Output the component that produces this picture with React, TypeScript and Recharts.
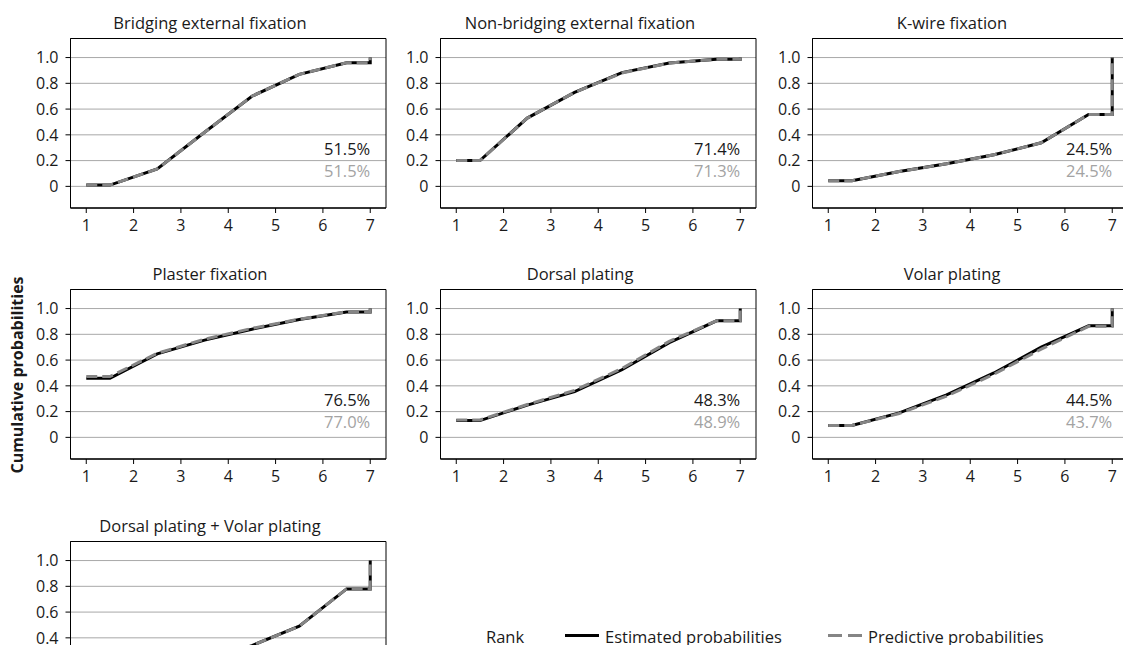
import React from 'react';
import { LineChart, Line, XAxis, YAxis, CartesianGrid, ReferenceDot, ReferenceArea } from 'recharts';

// x positions of the plotted cumulative-rank curve (flat start, ranks, flat end, jump to 1)
const rankPositions = [1, 1.5, 2.5, 3.5, 4.5, 5.5, 6.5, 7, 7];
const xTicks = [1, 2, 3, 4, 5, 6, 7];
const yTicks = [0, 0.2, 0.4, 0.6, 0.8, 1.0];

const titles = [
  'Bridging external fixation',
  'Non-bridging external fixation',
  'K-wire fixation',
  'Plaster fixation',
  'Dorsal plating',
  'Volar plating',
  'Dorsal plating + Volar plating',
];

const bridgingEstimated = [0.01, 0.01, 0.135, 0.42, 0.7, 0.87, 0.96, 0.96, 1.0];
const bridgingPredictive = [0.01, 0.01, 0.135, 0.42, 0.7, 0.87, 0.96, 0.96, 1.0];
const nonBridgingEstimated = [0.2, 0.2, 0.53, 0.73, 0.883, 0.958, 0.987, 0.987, 1.0];
const nonBridgingPredictive = [0.2, 0.2, 0.53, 0.73, 0.88, 0.957, 0.987, 0.987, 1.0];
const kwireEstimated = [0.044, 0.044, 0.115, 0.175, 0.245, 0.338, 0.558, 0.558, 1.0];
const kwirePredictive = [0.044, 0.044, 0.115, 0.175, 0.245, 0.338, 0.558, 0.558, 1.0];
const plasterEstimated = [0.458, 0.458, 0.648, 0.755, 0.84, 0.915, 0.973, 0.973, 1.0];
const plasterPredictive = [0.472, 0.472, 0.653, 0.762, 0.846, 0.918, 0.975, 0.975, 1.0];
const dorsalEstimated = [0.13, 0.13, 0.25, 0.355, 0.525, 0.735, 0.905, 0.905, 1.0];
const dorsalPredictive = [0.135, 0.135, 0.255, 0.365, 0.535, 0.745, 0.905, 0.905, 1.0];
const volarEstimated = [0.093, 0.093, 0.19, 0.33, 0.5, 0.7, 0.866, 0.866, 1.0];
const volarPredictive = [0.093, 0.093, 0.185, 0.32, 0.49, 0.685, 0.862, 0.862, 1.0];
const dorsalVolarEstimated = [0.03, 0.03, 0.1, 0.2, 0.34, 0.49, 0.78, 0.78, 1.0];
const dorsalVolarPredictive = [0.03, 0.03, 0.1, 0.2, 0.34, 0.49, 0.78, 0.78, 1.0];

const sucraEstimated = ['51.5%', '71.4%', '24.5%', '76.5%', '48.3%', '44.5%', null];
const sucraPredictive = ['51.5%', '71.3%', '24.5%', '77.0%', '48.9%', '43.7%', null];

const estimatedSeries = [
  bridgingEstimated, nonBridgingEstimated, kwireEstimated, plasterEstimated,
  dorsalEstimated, volarEstimated, dorsalVolarEstimated,
];
const predictiveSeries = [
  bridgingPredictive, nonBridgingPredictive, kwirePredictive, plasterPredictive,
  dorsalPredictive, volarPredictive, dorsalVolarPredictive,
];

// layout (style only)
const BOX_LEFTS = [70.5, 440.5, 812.5];
const BOX_TOPS = [38.5, 289.5, 541.5];
const PLOT_W = 315;
const PLOT_H = 169;
const Y_W = 60;
const X_H = 40;
const M_TOP = 10;
const M_RIGHT = 10;
const X_DOMAIN: [number, number] = [0.667, 7.333];
const Y_DOMAIN: [number, number] = [-0.168, 1.148];
const FONT = '"Open Sans", "Noto Sans", sans-serif';
const TEXT = '#1a1a1a';
const GRAY_LINE = '#858585';
const GRAY_TEXT = '#a3a3a3';
const TICK_FS = 16;
const LABEL_FS = 16.5;

const yFmt = (v: number) => (v === 0 ? '0' : v.toFixed(1));

function Panel({ idx }: { idx: number }) {
  const col = idx % 3;
  const row = Math.floor(idx / 3);
  const boxLeft = BOX_LEFTS[col];
  const boxTop = BOX_TOPS[row];
  const divLeft = Math.floor(boxLeft) - Y_W;
  const divTop = Math.floor(boxTop) - M_TOP;
  const est = estimatedSeries[idx];
  const pred = predictiveSeries[idx];
  const data = rankPositions.map((r, i) => ({ rank: r, est: est[i], pred: pred[i] }));
  const width = Y_W + PLOT_W + M_RIGHT + 1;
  const height = M_TOP + PLOT_H + X_H + 1;
  return (
    <div style={{ position: 'absolute', left: divLeft, top: divTop }}>
      <LineChart
        width={width}
        height={height}
        data={data}
        margin={{ top: M_TOP + (boxTop - Math.floor(boxTop)), right: M_RIGHT, bottom: 0, left: boxLeft - Math.floor(boxLeft) }}
      >
        <CartesianGrid horizontal vertical={false} stroke="#a8a8a8" strokeWidth={1} />
        <XAxis
          dataKey="rank"
          type="number"
          domain={X_DOMAIN}
          ticks={xTicks}
          allowDataOverflow
          height={X_H}
          tickSize={5}
          tickMargin={7}
          axisLine={{ stroke: '#000', strokeWidth: 1 }}
          tickLine={{ stroke: '#000', strokeWidth: 1 }}
          tick={{ fill: TEXT, fontSize: TICK_FS }}
        />
        <YAxis
          type="number"
          domain={Y_DOMAIN}
          ticks={yTicks}
          allowDataOverflow
          width={Y_W}
          tickSize={5}
          tickMargin={7}
          tickFormatter={yFmt}
          axisLine={{ stroke: '#000', strokeWidth: 1 }}
          tickLine={{ stroke: '#000', strokeWidth: 1 }}
          tick={{ fill: TEXT, fontSize: TICK_FS }}
        />
        <ReferenceArea
          x1={X_DOMAIN[0]}
          x2={X_DOMAIN[1]}
          y1={Y_DOMAIN[0]}
          y2={Y_DOMAIN[1]}
          fill="none"
          fillOpacity={0}
          stroke="#000"
          strokeWidth={1}
          strokeOpacity={1}
          ifOverflow="visible"
        />
        <Line
          type="linear"
          dataKey="est"
          stroke="#000"
          strokeWidth={3}
          dot={false}
          activeDot={false}
          isAnimationActive={false}
        />
        <Line
          type="linear"
          dataKey="pred"
          stroke={GRAY_LINE}
          strokeWidth={3}
          strokeDasharray="11 5"
          dot={false}
          activeDot={false}
          isAnimationActive={false}
        />
        {sucraEstimated[idx] && (
          <ReferenceDot
            x={7}
            y={0.29}
            r={0}
            fill="none"
            stroke="none"
            ifOverflow="visible"
            label={{ value: sucraEstimated[idx], position: 'left', offset: 0, fill: TEXT, fontSize: LABEL_FS }}
          />
        )}
        {sucraPredictive[idx] && (
          <ReferenceDot
            x={7}
            y={0.12}
            r={0}
            fill="none"
            stroke="none"
            ifOverflow="visible"
            label={{ value: sucraPredictive[idx], position: 'left', offset: 0, fill: GRAY_TEXT, fontSize: LABEL_FS }}
          />
        )}
      </LineChart>
    </div>
  );
}

export default function App() {
  return (
    <div
      style={{
        position: 'absolute',
        left: 0,
        top: 0,
        width: 1123,
        height: 645,
        overflow: 'hidden',
        background: '#fff',
        fontFamily: FONT,
      }}
    >
      {titles.map((_, i) => (
        <Panel key={i} idx={i} />
      ))}
      <svg
        width={1123}
        height={645}
        style={{ position: 'absolute', left: 0, top: 0, pointerEvents: 'none' }}
        fontFamily={FONT}
      >
        {titles.map((t, i) => {
          const col = i % 3;
          const row = Math.floor(i / 3);
          const cx = BOX_LEFTS[col] + PLOT_W / 2 - 18;
          return (
            <text key={t} x={cx} y={BOX_TOPS[row] - 9.5} textAnchor="middle" fontSize={LABEL_FS} fill={TEXT}>
              {t}
            </text>
          );
        })}
        <text
          x={23}
          y={375}
          transform="rotate(-90 23 375)"
          textAnchor="middle"
          fontSize={16}
          fontWeight="bold"
          fill={TEXT}
        >
          Cumulative probabilities
        </text>
        <text x={486} y={643} fontSize={LABEL_FS} fill={TEXT}>Rank</text>
        <line x1={565} x2={599} y1={635.5} y2={635.5} stroke="#000" strokeWidth={3} />
        <text x={605} y={643} fontSize={LABEL_FS} fill={TEXT}>Estimated probabilities</text>
        <line x1={828} x2={863} y1={635.5} y2={635.5} stroke={GRAY_LINE} strokeWidth={3} strokeDasharray="14 6" />
        <text x={868} y={643} fontSize={LABEL_FS} fill={TEXT}>Predictive probabilities</text>
      </svg>
    </div>
  );
}
